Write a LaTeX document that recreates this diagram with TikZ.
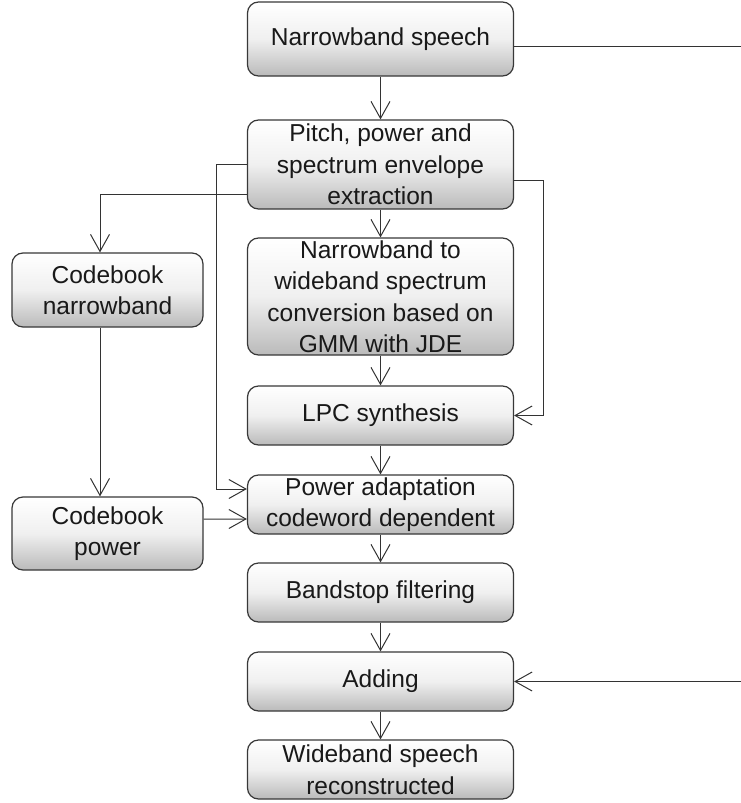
\documentclass[tikz,border=0pt]{standalone}
\usepackage{fontspec}
\setmainfont{Liberation Sans}
\usetikzlibrary{arrows.meta}
\newcommand\diagfont{\fontsize{24.5bp}{31.5bp}\selectfont}
\begin{document}
\begin{tikzpicture}[x=1bp,y=-1bp,
  box/.style={draw=black!78, line width=1.2bp, rounded corners=11bp,
    top color=white, bottom color=black!27, middle color=black!6,
    minimum width=266bp, inner sep=0pt, align=center,
    font=\diagfont, text=black!90},
  sidebox/.style={box, minimum width=191bp},
  link/.style={draw=black!80, line width=1bp,
    -{Straight Barb[length=17bp,width=19bp]}},
  wire/.style={draw=black!80, line width=1bp}]
\useasboundingbox (0,0) rectangle (741,803);

% main processing column
\node[box, minimum height=74bp]  (nb)    at (380.5,39)    {Narrowband speech};
\node[box, minimum height=89bp]  (pitch) at (380.5,164.5) {Pitch, power and\\spectrum envelope\\extraction};
\node[box, minimum height=117bp] (conv)  at (380.5,296.5) {Narrowband to\\wideband spectrum\\conversion based on\\GMM with JDE};
\node[box, minimum height=59bp]  (lpc)   at (380.5,415.5) {LPC synthesis};
\node[box, minimum height=59bp]  (pow)   at (380.5,504.5) {Power adaptation\\codeword dependent};
\node[box, minimum height=59bp]  (bstop) at (380.5,592.5) {Bandstop filtering};
\node[box, minimum height=59bp]  (add)   at (380.5,681.5) {Adding};
\node[box, minimum height=59bp]  (wide)  at (380.5,769.5) {Wideband speech\\reconstructed};

% codebooks
\node[sidebox, minimum height=74bp] (cbn) at (107.5,290)   {Codebook\\narrowband};
\node[sidebox, minimum height=73bp] (cbp) at (107.5,533.5) {Codebook\\power};

% narrowband bypass towards the adder
\coordinate (bypassout) at (741,47);
\coordinate (bypassin)  at (741,681.5);
\draw[wire] (nb.east |- bypassout) -- (bypassout);
\draw[link] (bypassin) -- (add.east);

% main chain
\draw[link] (nb.south) -- (pitch.north);
\draw[link] (pitch.south) -- (conv.north);
\draw[link] (conv.south) -- (lpc.north);
\draw[link] (lpc.south) -- (pow.north);
\draw[link] (pow.south) -- (bstop.north);
\draw[link] (bstop.south) -- (add.north);
\draw[link] (add.south) -- (wide.north);

% side paths from the feature extraction
\draw[link] (pitch.west) -- ++(-30,0) |- ([yshift=15.5bp]pow.west);
\draw[link] ([yshift=-29.5bp]pitch.west) -| ([xshift=-7.5bp]cbn.north);
\draw[link] ([yshift=-15.5bp]pitch.east) -- ++(29,0) |- (lpc.east);

% codebook paths
\draw[link] ([xshift=-7.5bp]cbn.south) -- ([xshift=-7.5bp]cbp.north);
\draw[link] ([yshift=14.5bp]cbp.east) -- ([yshift=-14.5bp]pow.west);
\end{tikzpicture}
\end{document}
